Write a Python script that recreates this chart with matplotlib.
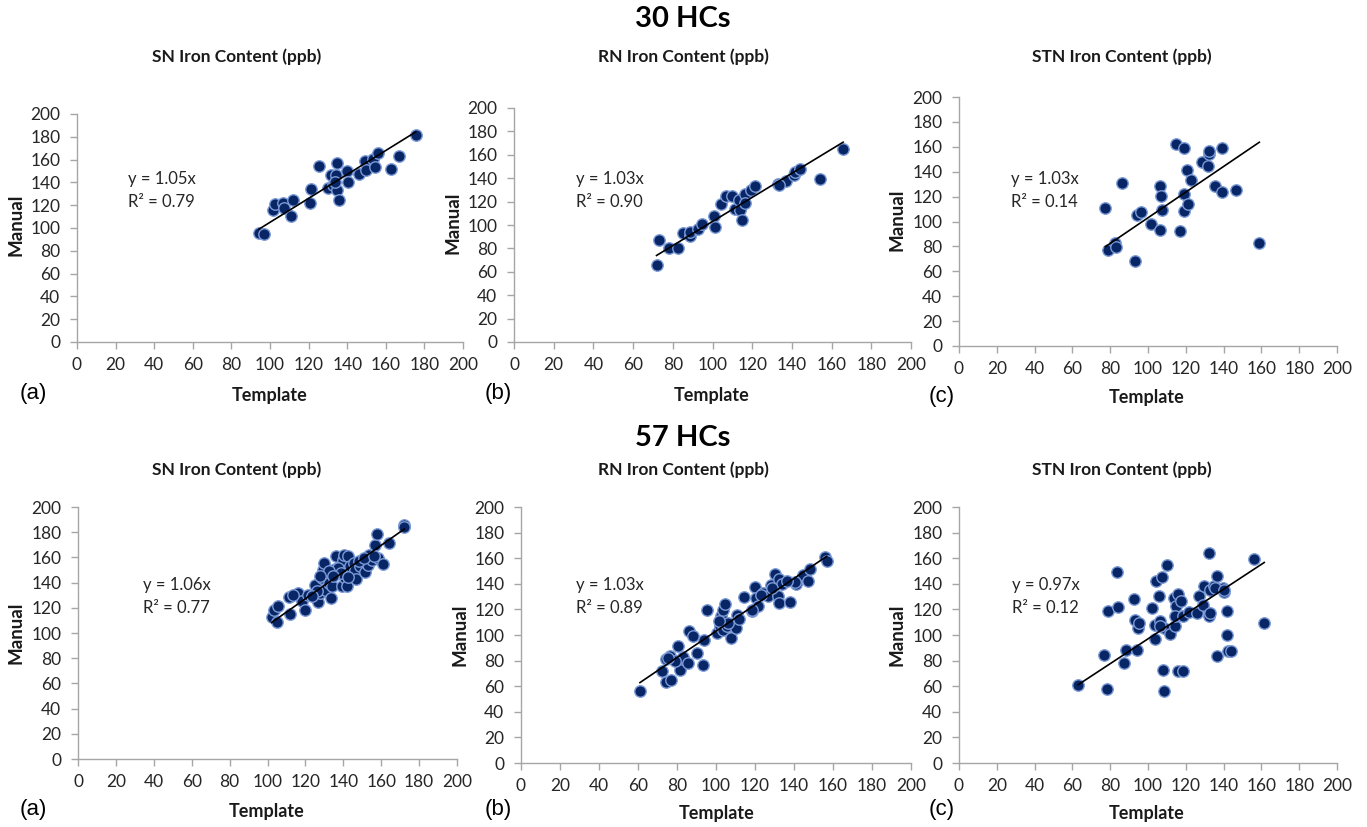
import matplotlib
matplotlib.use("Agg")
import matplotlib.pyplot as plt
import numpy as np

plt.rcParams['font.family'] = ['Lato', 'DejaVu Sans']

# ---------------- data ----------------
# 30 HCs
sn30_x = [94.3, 96.9, 101.6, 102.6, 106.9, 107.3, 111.9, 111.0, 120.9, 121.4, 125.2, 130.0, 131.8, 132.6, 134.4,
          134.7, 134.7, 135.6, 140.1, 140.4, 146.1, 149.4, 149.9, 153.4, 154.2, 156.0, 162.5, 166.7, 175.5, 133.5]
sn30_y = [95.3, 94.7, 115.8, 120.8, 122.0, 117.9, 124.6, 110.9, 121.7, 134.3, 154.8, 134.9, 146.6, 137.8, 146.6,
          156.9, 133.4, 124.6, 149.6, 140.2, 147.5, 158.4, 151.0, 160.4, 153.4, 165.7, 151.6, 162.8, 181.8, 140.0]

rn30_x = [71.8, 73.0, 78.2, 82.4, 85.2, 88.9, 88.9, 92.8, 94.8, 100.7, 101.2, 104.5, 107.0, 109.9, 111.2,
          113.3, 114.1, 114.9, 116.3, 116.6, 119.6, 121.6, 133.0, 137.2, 141.1, 141.4, 144.3, 154.0, 165.8, 133.5]
rn30_y = [66.1, 87.5, 80.3, 80.3, 93.2, 90.3, 94.0, 96.9, 100.6, 107.4, 98.3, 118.2, 125.1, 125.1, 114.0,
          121.1, 113.1, 104.0, 126.8, 119.1, 129.6, 133.0, 135.3, 137.6, 142.5, 145.3, 148.1, 139.0, 165.2, 134.0]

stn30_x = [77.4, 78.8, 82.7, 83.2, 86.2, 92.9, 94.2, 96.3, 101.6, 106.5, 106.5, 107.1, 107.4, 114.8, 116.8,
           119.2, 119.2, 119.2, 121.0, 120.6, 122.8, 128.6, 131.6, 132.5, 132.5, 135.6, 139.2, 139.2, 146.6, 158.9]
stn30_y = [111.2, 77.5, 82.4, 79.7, 131.3, 68.2, 105.1, 107.8, 97.6, 93.0, 128.3, 120.6, 109.6, 162.6, 92.5,
           159.4, 121.7, 108.6, 114.4, 141.2, 133.2, 147.9, 144.4, 154.0, 156.7, 128.3, 158.8, 123.8, 125.7, 82.4]

# 57 HCs
sn57_x = [102.2, 103.4, 105.7, 105.2, 111.9, 111.5, 116.3, 118.1, 119.8, 121.6, 125.1, 126.9, 127.8, 128.6, 129.5,
          129.9, 130.4, 132.2, 133.6, 134.3, 135.7, 136.2, 137.5, 139.2, 140.1, 140.6, 141.0, 141.9, 142.7, 143.6,
          145.4, 146.3, 146.8, 148.9, 151.2, 153.0, 153.3, 155.1, 156.5, 157.7, 158.3, 160.9, 163.9, 172.2, 171.8,
          137.1, 138.9, 132.7, 126.0, 123.3, 148.5, 150.7, 134.8, 142.7, 127.8, 156.0, 113.6]
sn57_y = [112.7, 118.0, 121.2, 108.5, 115.3, 128.6, 131.7, 125.1, 118.0, 130.2, 137.8, 124.3, 131.7, 143.6, 150.3,
          155.6, 134.4, 139.7, 127.8, 137.0, 150.8, 161.4, 147.6, 137.6, 158.2, 162.2, 143.6, 137.0, 160.8, 152.9,
          155.6, 150.3, 142.9, 152.9, 148.1, 154.2, 162.2, 158.2, 170.1, 178.8, 159.5, 155.0, 171.4, 186.0, 184.1,
          151.6, 147.6, 148.9, 133.0, 129.1, 156.9, 159.5, 145.0, 144.4, 145.0, 161.4, 130.4]

rn57_x = [61.0, 72.1, 74.3, 76.4, 74.3, 76.7, 80.6, 80.6, 81.5, 82.9, 85.8, 86.3, 88.4, 90.1, 93.5,
          94.0, 95.2, 100.3, 102.1, 102.6, 103.8, 104.6, 103.4, 105.8, 107.7, 110.1, 110.6, 112.0, 114.6, 118.3,
          120.1, 120.5, 121.4, 124.3, 126.9, 128.3, 130.0, 131.7, 132.1, 132.5, 134.1, 137.7, 141.1, 144.5, 147.4,
          148.3, 156.1, 156.8, 118.7, 78.9, 75.5, 140.6, 123.1, 106.3, 128.6, 136.3, 101.7]
rn57_y = [56.5, 72.1, 81.5, 83.3, 63.3, 65.1, 91.1, 79.4, 72.9, 82.6, 78.1, 102.9, 99.5, 85.9, 76.8,
          96.4, 119.3, 101.6, 106.8, 115.1, 119.3, 124.5, 103.6, 106.8, 97.4, 105.5, 115.9, 112.5, 129.4, 118.5,
          137.5, 128.9, 122.4, 132.8, 130.7, 139.3, 147.7, 130.7, 125.0, 143.8, 139.8, 125.5, 140.1, 147.1, 141.9,
          151.6, 160.7, 157.6, 119.8, 79.4, 82.0, 141.1, 131.5, 109.4, 136.7, 142.0, 110.7]

stn57_x = [63.0, 76.5, 78.3, 78.8, 83.6, 83.9, 87.1, 88.5, 92.4, 93.3, 94.2, 94.5, 95.1, 102.1, 103.9,
           104.4, 103.9, 105.6, 106.5, 107.4, 107.9, 108.3, 108.3, 110.0, 111.8, 113.6, 114.5, 114.8, 114.5, 115.7,
           115.9, 117.7, 118.5, 118.5, 121.5, 125.9, 126.8, 129.1, 129.5, 132.2, 132.2, 133.0, 132.6, 134.7, 136.5,
           136.5, 139.7, 140.1, 141.8, 141.8, 142.3, 143.9, 155.9, 161.5, 135.3, 140.1, 106.5]
stn57_y = [61.2, 84.1, 57.8, 119.0, 149.0, 121.6, 78.1, 88.5, 128.4, 112.0, 88.5, 105.5, 109.4, 121.1, 96.9,
           141.9, 108.1, 130.7, 110.7, 145.3, 72.9, 56.5, 105.5, 155.0, 101.0, 128.9, 106.8, 122.9, 114.6, 132.0,
           71.6, 126.3, 71.6, 114.6, 117.7, 117.2, 130.2, 123.7, 138.0, 164.1, 114.6, 117.2, 135.4, 138.5, 146.4,
           83.3, 136.7, 133.3, 100.3, 119.0, 87.2, 87.2, 159.6, 109.4, 136.7, 135.4, 106.8]

slopes = [1.05, 1.03, 1.03, 1.06, 1.03, 0.97]
r2s = ["0.79", "0.90", "0.14", "0.77", "0.89", "0.12"]
titles = ["SN Iron Content (ppb)", "RN Iron Content (ppb)", "STN Iron Content (ppb)"]
panel_letters = ["(a)", "(b)", "(c)"]
row_titles = ["30 HCs", "57 HCs"]
ticks = [0, 20, 40, 60, 80, 100, 120, 140, 160, 180, 200]

xs = [sn30_x, rn30_x, stn30_x, sn57_x, rn57_x, stn57_x]
ys = [sn30_y, rn30_y, stn30_y, sn57_y, rn57_y, stn57_y]

# ---------------- layout (pixels) ----------------
W, H = 1367, 827
fig = plt.figure(figsize=(W / 100, H / 100), dpi=100)

# axes boxes: x0, x200, y0, y200 in pixel coordinates
boxes = [
    (77, 463, 342, 114),
    (514, 911, 342, 108),
    (959, 1337, 346, 97),
    (78, 457, 759, 507),
    (521, 911, 763, 507),
    (959, 1337, 763, 507),
]
eq_pos = [(128, 179), (576, 179), (1011, 179), (143, 585), (576, 585), (1012, 585)]
manual_pos = [(16, 225), (453, 223), (897, 220), (16, 633), (460, 635), (897, 635)]
letter_pos = [(33, 394), (498, 394), (942, 397), (33, 810), (498, 810), (942, 810)]
templ_pos = [(270, 395), (712, 395), (1147, 398), (267, 812), (717, 814), (1147, 814)]
title_pos = [(237, 57), (683, 57), (1122, 57), (237, 470), (683, 470), (1122, 470)]

def fx(px):
    return px / W

def fy(py):
    return 1 - py / H

fill = '#082565'
edge = '#7C9BD6'
spine_c = '#A6A6A6'
txt_c = '#262626'

for i in range(6):
    x0, x1, y0, y1 = boxes[i]
    ax = fig.add_axes([fx(x0), fy(y0), (x1 - x0) / W, (y0 - y1) / H])
    ax.set_xlim(0, 200)
    ax.set_ylim(0, 200)
    ax.set_xticks(ticks)
    ax.set_yticks(ticks)
    for s in ['top', 'right']:
        ax.spines[s].set_visible(False)
    for s in ['left', 'bottom']:
        ax.spines[s].set_color(spine_c)
        ax.spines[s].set_linewidth(1.0)
    ax.tick_params(axis='both', direction='out', length=5, width=1, color=spine_c,
                   labelsize=12.5, labelcolor=txt_c)
    ax.tick_params(axis='y', pad=7)
    ax.tick_params(axis='x', pad=6)
    ax.scatter(xs[i], ys[i], s=68, c=fill, edgecolors=edge, linewidths=1.0, zorder=3, clip_on=False)
    xa = np.array(xs[i])
    xl = np.array([xa.min(), xa.max()])
    ax.plot(xl, slopes[i] * xl, color='black', lw=1.2, zorder=4)

    ex, ey = eq_pos[i]
    fig.text(fx(ex), fy(ey), f"y = {slopes[i]:.2f}x", fontsize=12, color=txt_c, ha='left', va='center')
    fig.text(fx(ex), fy(ey + 23), f"R\u00b2 = {r2s[i]}", fontsize=12, color=txt_c, ha='left', va='center')

    mx, my = manual_pos[i]
    fig.text(fx(mx), fy(my), "Manual", rotation=90, fontsize=13.5, fontweight='bold', color='#1a1a1a',
             ha='center', va='center')
    tx, ty = templ_pos[i]
    fig.text(fx(tx), fy(ty), "Template", fontsize=13, fontweight='bold', color='#1a1a1a',
             ha='center', va='center')
    lx, ly = letter_pos[i]
    fig.text(fx(lx), fy(ly), panel_letters[i % 3], fontsize=16, color='black', ha='center', va='center',
             family=['Liberation Sans', 'DejaVu Sans'])
    ttx, tty = title_pos[i]
    fig.text(fx(ttx), fy(tty), titles[i % 3], fontsize=12.5, fontweight='bold', color='#1a1a1a',
             ha='center', va='center')

fig.text(fx(683), fy(19), row_titles[0], fontsize=21, fontweight='bold', ha='center', va='center')
fig.text(fx(683), fy(438), row_titles[1], fontsize=21, fontweight='bold', ha='center', va='center')

fig.savefig("out.png", dpi=100)
